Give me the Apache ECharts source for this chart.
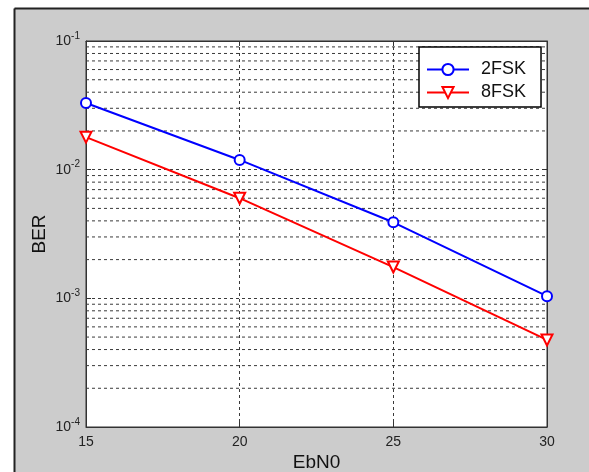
<!DOCTYPE html>
<html>
<head>
<meta charset="utf-8">
<script src="https://cdn.jsdelivr.net/npm/echarts@6/dist/echarts.min.js"></script>
<style>
  html, body { margin: 0; padding: 0; background: #ffffff; }
  #chart { width: 589px; height: 472px; }
</style>
</head>
<body>
<div id="chart"></div>
<script>
// Bit error rate versus Eb/N0 for two FSK schemes
const ebn0 = [15, 20, 25, 30];
const ber2fsk = [0.033, 0.0119, 0.0039, 0.00104];
const ber8fsk = [0.0179, 0.0060, 0.00175, 0.000475];
const seriesNames = ['2FSK', '8FSK'];
const xTicks = [15, 20, 25, 30];
const yDecades = [1e-4, 1e-3, 1e-2, 1e-1];
// minor log grid values (2..9 within each decade)
const minorGrid = [];
for (let d = 0; d < yDecades.length - 1; d++) {
  for (let m = 2; m <= 9; m++) minorGrid.push(m * yDecades[d]);
}

const FONT = '"Liberation Sans", Arial, sans-serif';
const gridLine = { color: '#3a3a3a', width: 1, type: [3, 3] };

const chart = echarts.init(document.getElementById('chart'), null, { renderer: 'canvas' });

function supLabel(v) {
  const e = Math.round(Math.log10(v));
  return '{b|10}{s|' + e + '}';
}

// dotted minor grid lines, one flat segment per minor value
const minorSeries = minorGrid.map(v => ({
  type: 'line', silent: true, symbol: 'none', z: 1,
  data: [[xTicks[0], v], [xTicks[xTicks.length - 1], v]],
  lineStyle: gridLine, tooltip: { show: false }
}));

chart.setOption({
  backgroundColor: '#cccccc',
  animation: false,
  graphic: [
    { type: 'rect', shape: { x: 0, y: 0, width: 14, height: 472 }, style: { fill: '#ffffff' }, silent: true },
    { type: 'rect', shape: { x: 0, y: 0, width: 589, height: 8 }, style: { fill: '#ffffff' }, silent: true },
    { type: 'line', shape: { x1: 14.5, y1: 8.5, x2: 589, y2: 8.5 }, style: { stroke: '#222', lineWidth: 2 }, silent: true },
    { type: 'line', shape: { x1: 14.5, y1: 8.5, x2: 14.5, y2: 472 }, style: { stroke: '#222', lineWidth: 2 }, silent: true }
  ],
  grid: {
    left: 86, top: 41, right: 42, bottom: 45,
    containLabel: false, outerBoundsMode: 'none',
    show: true, backgroundColor: '#ffffff', borderColor: '#333', borderWidth: 1
  },
  legend: {
    data: seriesNames,
    left: 419, top: 47,
    orient: 'vertical',
    backgroundColor: '#ffffff',
    borderColor: '#000000', borderWidth: 1.5,
    padding: [11, 15, 3, 7],
    itemWidth: 42, itemHeight: 14, itemGap: 0,
    textStyle: { fontFamily: FONT, fontSize: 18, lineHeight: 23, color: '#111', padding: [0, 0, 0, 7] }
  },
  xAxis: [{
    type: 'value', min: 15, max: 30, interval: 5,
    name: 'EbN0', nameLocation: 'middle', nameGap: 26, nameMoveOverlap: false,
    nameTextStyle: { fontFamily: FONT, fontSize: 19, color: '#111' },
    axisLine: { show: true, lineStyle: { color: '#333' } },
    axisTick: { show: true, inside: true, length: 5, lineStyle: { color: '#333' } },
    axisLabel: { fontFamily: FONT, fontSize: 14, color: '#222', margin: 8,
      formatter: v => (xTicks.indexOf(v) >= 0 ? String(v) : '') },
    splitLine: { show: true, lineStyle: gridLine }
  }, {
    type: 'value', min: 15, max: 30, interval: 5, position: 'top',
    axisLine: { show: true, lineStyle: { color: '#333' } },
    axisTick: { show: true, inside: true, length: 5, lineStyle: { color: '#333' } },
    axisLabel: { show: false }, splitLine: { show: false }
  }],
  yAxis: [{
    type: 'log', logBase: 10, min: 1e-4, max: 1e-1,
    name: 'BER', nameLocation: 'middle', nameGap: 37, nameRotate: 90, nameMoveOverlap: false,
    nameTextStyle: { fontFamily: FONT, fontSize: 19, color: '#111' },
    axisLine: { show: true, lineStyle: { color: '#333' } },
    axisTick: { show: true, inside: true, length: 5, lineStyle: { color: '#333' } },
    axisLabel: {
      margin: 6,
      formatter: supLabel,
      rich: {
        b: { fontFamily: FONT, fontSize: 14, color: '#222' },
        s: { fontFamily: FONT, fontSize: 10, color: '#222', padding: [0, 0, 10, 0] }
      }
    },
    splitLine: { show: true, lineStyle: gridLine }
  }, {
    type: 'log', logBase: 10, min: 1e-4, max: 1e-1, position: 'right',
    axisLine: { show: true, lineStyle: { color: '#333' } },
    axisTick: { show: true, inside: true, length: 5, lineStyle: { color: '#333' } },
    axisLabel: { show: false }, splitLine: { show: false }
  }],
  series: minorSeries.concat([{
    name: seriesNames[0], type: 'line',
    data: ebn0.map((x, i) => [x, ber2fsk[i]]),
    lineStyle: { color: '#0000ff', width: 2 },
    itemStyle: { color: '#0000ff', borderColor: '#0000ff', borderWidth: 1.6 },
    symbol: 'emptyCircle', symbolSize: 10,
    z: 5
  }, {
    name: seriesNames[1], type: 'line',
    data: ebn0.map((x, i) => [x, ber8fsk[i]]),
    lineStyle: { color: '#ff0000', width: 2 },
    itemStyle: { color: '#ff0000', borderColor: '#ff0000', borderWidth: 1.6 },
    symbol: 'emptyTriangle', symbolRotate: 180, symbolSize: 11,
    z: 5
  }])
});
</script>
</body>
</html>
